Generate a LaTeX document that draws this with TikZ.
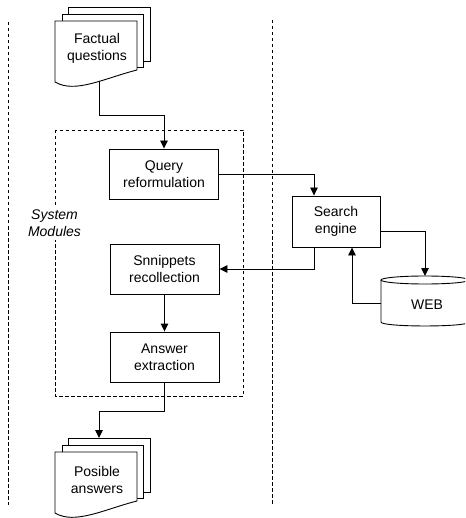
\documentclass[tikz,border=0pt]{standalone}
\usepackage{fontspec}
\setmainfont{Liberation Sans}
\usetikzlibrary{arrows.meta}

\tikzset{
  txt/.style={font=\fontsize{14}{17}\selectfont, align=center},
  module/.style={txt, draw, line width=0.9pt, fill=white, inner sep=0pt,
    minimum width=109pt, minimum height=50pt},
  sheet/.style={draw, line width=0.9pt, fill=white},
  flow/.style={line width=0.9pt, -{Triangle[length=8pt,width=7.5pt]}},
  divider/.style={line width=0.8pt, dash pattern=on 3.5pt off 2.5pt},
}

\begin{document}
\begin{tikzpicture}[x=1pt,y=-1pt]
    \useasboundingbox (0,0) rectangle (465,518);
    \clip (0,0) rectangle (465,518);

    % Dashed dividers
    \draw[divider] (8,22) -- (8,505);
    \draw[divider] (272,20) -- (272,505);

    % System modules frame and its label
    \draw[divider] (55,130) rectangle (243,396);
    \node[txt, fill=white, font=\fontsize{14}{17}\selectfont\itshape, inner sep=3pt]
      (sysmod) at (54.5,223.5) {System\\Modules};

    % Input documents
    \draw[sheet] (68,7) rectangle (150,61);
    \draw[sheet] (62,14) rectangle (143,67);
    \draw[sheet] (55,21) -- (137,21) -- (137,70)
      .. controls (105,78) and (75,94) .. (55,82) -- cycle;
    \node[txt] (questions) at (97,48) {Factual\\questions};
    \coordinate (qbot) at (99,81);

    % Output documents
    \begin{scope}[shift={(0,431)}]
      \draw[sheet] (68,7) rectangle (150,61);
      \draw[sheet] (62,14) rectangle (143,67);
      \draw[sheet] (55,21) -- (137,21) -- (137,70)
        .. controls (105,78) and (75,94) .. (55,82) -- cycle;
      \node[txt] (answers) at (97,49) {Posible\\answers};
      \coordinate (atop) at (99,7);
    \end{scope}

    % Modules
    \node[module] (query) at (164,174) {Query\\reformulation};
    \node[module] (snippets) at (164.5,269) {Snnippets\\recollection};
    \node[module] (answer) at (164.5,357) {Answer\\extraction};
    \node[module, minimum width=88pt, minimum height=51pt] (search) at (336,221.5) {Search\\engine};

    % WEB store
    \draw[sheet] (381,280) -- (381,322)
      .. controls (381,327.3) and (469,327.3) .. (469,322) -- (469,280);
    \draw[line width=0.9pt] (425,280) ellipse [x radius=44, y radius=4];
    \node[txt] (web) at (427,305) {WEB};
    \coordinate (webtop) at (425,276);
    \coordinate (webleft) at (381,303);

    % Connectors
    \draw[flow] (qbot) -- (99,115) -| (query.north);
    \draw[flow] (query.east) -| ([xshift=-22pt]search.north);
    \draw[flow] ([xshift=-22pt]search.south) |- (snippets.east);
    \draw[flow] (snippets.south) -- (answer.north);
    \draw[flow] ([yshift=-9.5pt]search.east) -| (webtop);
    \draw[flow] (webleft) -| ([xshift=16pt]search.south);
    \draw[flow] (answer.south) -- (164.5,411) -| (atop);

\end{tikzpicture}
\end{document}
